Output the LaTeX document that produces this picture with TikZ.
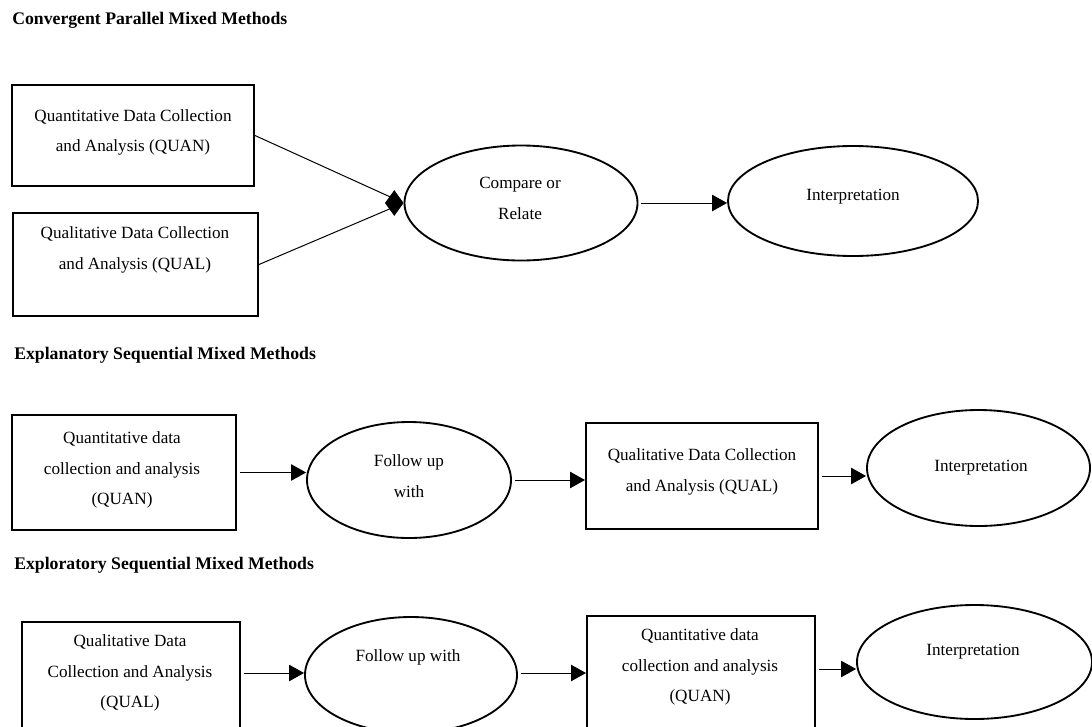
\documentclass[tikz,border=0pt]{standalone}
\usepackage{fontspec}
\setmainfont{Liberation Serif}
\usetikzlibrary{shapes.geometric,arrows.meta}
\begin{document}
\begin{tikzpicture}[x=0.7pt,y=-0.7pt,
  box/.style={draw,line width=1.4pt,rectangle,inner sep=0pt},
  ell/.style={draw,line width=1.3pt,ellipse,inner sep=0pt},
  txt/.style={align=center,inner sep=0pt,font=\fontsize{12}{21.4}\selectfont},
  ttl/.style={anchor=west,inner sep=0pt,font=\fontsize{12.4}{14}\selectfont\bfseries},
  conn/.style={line width=0.7pt},
  arr/.style={line width=0.7pt,-{Triangle[length=10.5pt,width=11.5pt]},shorten <=2pt},
  dia/.style={line width=0.7pt,-{Diamond[length=13pt,width=18pt]}}]
\useasboundingbox (0,0) rectangle (1092,726);
\clip (0,0) rectangle (1092,726);

% ---------- Convergent ----------
\node[ttl] (title1) at (12,20) {Convergent Parallel Mixed Methods};
\node[box,minimum width=169.4pt,minimum height=70.7pt] (b1) at (133,135.5) {};
\node[box,minimum width=171.5pt,minimum height=72.1pt] (b2) at (135.5,264.5) {};
\node[ell,minimum width=163.1pt,minimum height=80.5pt] (cmp) at (521,203) {};
\node[ell,minimum width=175pt,minimum height=77pt] (int1) at (853,201) {};
\node[txt] (t1) at (133,132.5) {Quantitative Data Collection\\and Analysis (QUAN)};
\node[txt] (t2) at (135,250) {Qualitative Data Collection\\and Analysis (QUAL)};
\node[txt] (t3) at (520,198.5) {Compare or\\Relate};
\node[txt] (t4) at (853,197) {Interpretation};
\draw[conn,shorten >=7pt] (b1.east) -- (cmp.west);
\draw[conn,shorten >=7pt] (b2.east) -- (cmp.west);
\draw[dia] ([xshift=-2pt]cmp.west) -- (cmp.west);
\draw[arr] (cmp.east) -- (cmp.east -| int1.west);

% ---------- Explanatory ----------
\node[ttl] (title2) at (14,355) {Explanatory Sequential Mixed Methods};
\node[box,minimum width=156.8pt,minimum height=80.5pt] (qn2) at (124,472.5) {};
\node[ell,minimum width=142.8pt,minimum height=81.2pt] (fu2) at (409,480) {};
\node[box,minimum width=162.4pt,minimum height=74.2pt] (ql2) at (702,476) {};
\node[ell,minimum width=156.1pt,minimum height=81.2pt] (int2) at (978.5,468) {};
\node[txt] (t5) at (122,470) {Quantitative data\\collection and analysis\\(QUAN)};
\node[txt] (t6) at (409,476) {Follow up\\with};
\node[txt] (t7) at (702,472) {Qualitative Data Collection\\and Analysis (QUAL)};
\node[txt] (t8) at (981,468) {Interpretation};
\draw[arr] (qn2.east) -- (qn2.east -| fu2.west);
\draw[arr] (fu2.east) -- (fu2.east -| ql2.west);
\draw[arr] (ql2.east) -- (ql2.east -| int2.west);

% ---------- Exploratory ----------
\node[ttl] (title3) at (14,565) {Exploratory Sequential Mixed Methods};
\node[box,minimum width=152.6pt,minimum height=96.6pt] (ql3) at (131,691) {};
\node[ell,minimum width=148.4pt,minimum height=81.2pt] (fu3) at (411,675) {};
\node[box,minimum width=159.6pt,minimum height=100.8pt] (qn3) at (701,688) {};
\node[ell,minimum width=164.5pt,minimum height=79.8pt] (int3) at (974.5,662) {};
\node[txt] (t9) at (130,673) {Qualitative Data\\Collection and Analysis\\(QUAL)};
\node[txt] (t10) at (408,657) {Follow up with};
\node[txt] (t11) at (700,667) {Quantitative data\\collection and analysis\\(QUAN)};
\node[txt] (t12) at (973,652) {Interpretation};
\draw[arr] ([yshift=12.6pt]ql3.east) -- ([yshift=12.6pt]ql3.east -| fu3.west);
\draw[arr] ([yshift=1.4pt]fu3.east) -- ([yshift=1.4pt]fu3.east -| qn3.west);
\draw[arr] ([yshift=13.3pt]qn3.east) -- ([yshift=13.3pt]qn3.east -| int3.west);
\end{tikzpicture}
\end{document}
